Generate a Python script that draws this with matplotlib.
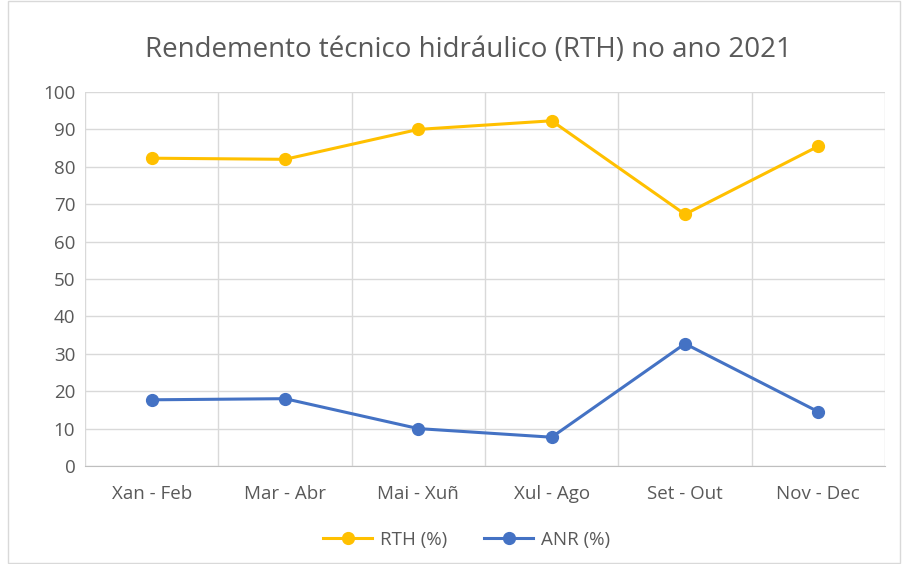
import matplotlib.pyplot as plt
from matplotlib.patches import Rectangle

# Data
periods = ['Xan - Feb', 'Mar - Abr', 'Mai - Xuñ', 'Xul - Ago', 'Set - Out', 'Nov - Dec']
rth = [82.3, 82.0, 90.0, 92.3, 67.3, 85.5]
anr = [17.7, 18.0, 10.0, 7.7, 32.7, 14.5]

plt.rcParams['font.family'] = ['Open Sans', 'DejaVu Sans']
text_col = '#595959'
grid_col = '#d9d9d9'

fig = plt.figure(figsize=(9.04, 5.64), dpi=100)
ax = fig.add_axes([85 / 904, 98 / 564, 800 / 904, 374 / 564])

# Outer chart border
fig.patches.append(Rectangle((8 / 904, 0.002), 892 / 904, 0.996, transform=fig.transFigure,
                             fill=False, edgecolor='#d9d9d9', linewidth=1))

x = list(range(len(periods)))
ax.plot(x, rth, color='#FFC000', marker='o', markersize=8.5, linewidth=2.2, label='RTH (%)')
ax.plot(x, anr, color='#4472C4', marker='o', markersize=8.5, linewidth=2.2, label='ANR (%)')

ax.set_xlim(-0.5, len(periods) - 0.5)
ax.set_ylim(0, 100)
ax.set_yticks(range(0, 101, 10))
ax.set_xticks(x)
ax.set_xticklabels(periods)
ax.set_xticks([i - 0.5 for i in range(len(periods) + 1)], minor=True)

# Grid
ax.grid(True, axis='y', color=grid_col, linewidth=1)
ax.grid(True, axis='x', which='minor', color=grid_col, linewidth=1)
ax.grid(False, axis='x', which='major')
ax.set_axisbelow(True)

for s in ['top', 'right', 'left']:
    ax.spines[s].set_visible(False)
ax.spines['bottom'].set_color('#bfbfbf')

ax.tick_params(axis='both', which='both', length=0, colors=text_col, labelsize=13.5)
ax.tick_params(axis='x', pad=14)
ax.tick_params(axis='y', pad=7)

fig.suptitle('Rendemento técnico hidráulico (RTH) no ano 2021', x=0.518, y=1 - 50 / 564,
             fontsize=20, color=text_col, va='center')

fig.legend(loc='center', bbox_to_anchor=(0.516, 1 - 540 / 564), ncol=2, frameon=False,
           fontsize=13.5, labelcolor=text_col, handlelength=2.6, handletextpad=0.4,
           columnspacing=2.0)

fig.savefig('out.png', dpi=100)
